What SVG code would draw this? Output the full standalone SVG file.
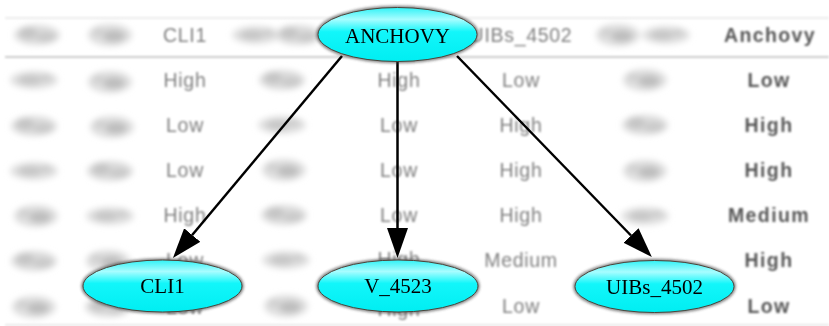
<svg xmlns="http://www.w3.org/2000/svg" xmlns:xlink="http://www.w3.org/1999/xlink" width="829" height="326" viewBox="0 0 829 326">
  <style>
    .cell { font-family: "Liberation Sans", Arial, sans-serif; font-size: 19.5px; fill: #808080; text-anchor: middle; letter-spacing: 0.7px; }
    .cell.key { font-weight: bold; fill: #575757; font-size: 19.5px; letter-spacing: 1.4px; }
    .rule { stroke: #cccccc; stroke-width: 2; }
    .node-body { fill: url(#cyanFill); stroke: #4d4238; stroke-width: 1; }
    .node-halo { fill: none; stroke: #3a3a3a; stroke-width: 3; opacity: 0.75; }
    .node-label { font-family: "Liberation Serif", "Times New Roman", serif; font-size: 21px; fill: #000; text-anchor: middle; }
    .edge { fill: none; stroke: #000; stroke-width: 2.5; }
  </style>
  <defs>
    <filter id="softText" x="-10%" y="-30%" width="120%" height="160%">
      <feGaussianBlur stdDeviation="0.9"/>
    </filter>
    <filter id="smudge" x="-20%" y="-20%" width="140%" height="140%">
      <feGaussianBlur stdDeviation="3.4"/>
    </filter>
    <filter id="softLine" x="-5%" y="-200%" width="110%" height="500%">
      <feGaussianBlur stdDeviation="0.8"/>
    </filter>
    <filter id="halo" x="-20%" y="-40%" width="140%" height="180%">
      <feGaussianBlur stdDeviation="1.6"/>
    </filter>
    <linearGradient id="cyanFill" x1="0" y1="0" x2="0" y2="1">
      <stop offset="0" stop-color="#30f2f6"/>
      <stop offset="0.22" stop-color="#a8fdff"/>
      <stop offset="0.45" stop-color="#12f6fa"/>
      <stop offset="1" stop-color="#00eef2"/>
    </linearGradient>
    <marker id="arrow" viewBox="0 0 30 21" refX="0" refY="10.5" markerWidth="30" markerHeight="21" markerUnits="userSpaceOnUse" orient="auto">
      <path d="M0,0 L30,10.5 L0,21 z" fill="#000"/>
    </marker>
    <!-- smudged cell marks, three shapes -->
    <g id="blob">
      <ellipse cx="0" cy="0" rx="23" ry="10" fill="#dcdcdc"/>
      <ellipse cx="-9" cy="-2" rx="9" ry="6" fill="#c4c4c4"/>
      <ellipse cx="9" cy="2" rx="10" ry="5" fill="#c9c9c9"/>
    </g>
    <g id="blob2">
      <ellipse cx="0" cy="0" rx="22" ry="11" fill="#dedede"/>
      <ellipse cx="4" cy="1" rx="11" ry="6" fill="#bdbdbd"/>
      <ellipse cx="-12" cy="-3" rx="6" ry="4" fill="#cfcfcf"/>
    </g>
    <g id="blob3">
      <ellipse cx="0" cy="0" rx="24" ry="9" fill="#e0e0e0"/>
      <ellipse cx="-4" cy="0" rx="12" ry="5" fill="#c6c6c6"/>
      <ellipse cx="12" cy="-2" rx="6" ry="4" fill="#cdcdcd"/>
    </g>
  </defs>

  <rect width="829" height="326" fill="#fff"/>

  <!-- table background -->
  <g id="table">
    <g filter="url(#softLine)">
      <line x1="5" y1="18" x2="829" y2="18" stroke="#e6e6e6" stroke-width="1.5"/>
      <line class="rule" x1="5" y1="57" x2="829" y2="57"/>
      <line x1="5" y1="325" x2="829" y2="325" stroke="#e0e0e0" stroke-width="1.5"/>
    </g>
    <g filter="url(#smudge)">
      <!-- header row -->
      <use xlink:href="#blob" x="37" y="35"/>
      <use xlink:href="#blob2" x="110" y="35"/>
      <use xlink:href="#blob3" x="256" y="35"/>
      <use xlink:href="#blob" x="298" y="35"/>
      <use xlink:href="#blob2" x="618" y="35"/>
      <use xlink:href="#blob3" x="666" y="35"/>
      <!-- body rows -->
      <use xlink:href="#blob3" x="34" y="80"/>
      <use xlink:href="#blob2" x="110" y="82"/>
      <use xlink:href="#blob" x="282" y="80"/>
      <use xlink:href="#blob2" x="645" y="80"/>
      <use xlink:href="#blob" x="34" y="126"/>
      <use xlink:href="#blob2" x="112" y="127"/>
      <use xlink:href="#blob3" x="282" y="125"/>
      <use xlink:href="#blob" x="645" y="125"/>
      <use xlink:href="#blob3" x="34" y="171"/>
      <use xlink:href="#blob" x="110" y="171"/>
      <use xlink:href="#blob2" x="284" y="170"/>
      <use xlink:href="#blob2" x="645" y="171"/>
      <use xlink:href="#blob2" x="36" y="216"/>
      <use xlink:href="#blob3" x="110" y="216"/>
      <use xlink:href="#blob" x="284" y="215"/>
      <use xlink:href="#blob3" x="645" y="216"/>
      <use xlink:href="#blob" x="34" y="261"/>
      <use xlink:href="#blob2" x="108" y="261"/>
      <use xlink:href="#blob3" x="286" y="260"/>
      <use xlink:href="#blob2" x="34" y="307"/>
      <use xlink:href="#blob" x="108" y="307"/>
      <use xlink:href="#blob2" x="286" y="306"/>
    </g>
    <g filter="url(#softText)">
      <text class="cell" x="185" y="42">CLI1</text>
      <text class="cell" x="185" y="87">High</text>
      <text class="cell" x="185" y="132">Low</text>
      <text class="cell" x="185" y="177">Low</text>
      <text class="cell" x="185" y="222">High</text>
      <text class="cell" x="185" y="267">Low</text>
      <text class="cell" x="185" y="314">Low</text>

      <text class="cell" x="399" y="87">High</text>
      <text class="cell" x="399" y="132">Low</text>
      <text class="cell" x="399" y="177">Low</text>
      <text class="cell" x="399" y="222">Low</text>
      <text class="cell" x="399" y="266">High</text>
      <text class="cell" x="399" y="316">High</text>

      <text class="cell" x="521" y="42">UIBs_4502</text>
      <text class="cell" x="521" y="87">Low</text>
      <text class="cell" x="521" y="132">High</text>
      <text class="cell" x="521" y="177">High</text>
      <text class="cell" x="521" y="222">High</text>
      <text class="cell" x="521" y="267">Medium</text>
      <text class="cell" x="521" y="313">Low</text>

      <text class="cell key" x="770" y="42">Anchovy</text>
      <text class="cell key" x="769" y="87">Low</text>
      <text class="cell key" x="769" y="132">High</text>
      <text class="cell key" x="769" y="177">High</text>
      <text class="cell key" x="769" y="222">Medium</text>
      <text class="cell key" x="769" y="267">High</text>
      <text class="cell key" x="769" y="313">Low</text>
    </g>
  </g>

  <!-- connectors -->
  <g id="edges">
    <path class="edge" d="M342,56 L192.2,235" marker-end="url(#arrow)"/>
    <path class="edge" d="M397.5,61 L397.5,228" marker-end="url(#arrow)"/>
    <path class="edge" d="M457,56 L631,235.5" marker-end="url(#arrow)"/>
  </g>

  <!-- nodes -->
  <g id="node-anchovy">
    <ellipse class="node-halo" cx="397.5" cy="34.5" rx="79.5" ry="27" filter="url(#halo)"/>
    <ellipse class="node-body" cx="397.5" cy="34.5" rx="79.5" ry="27"/>
    <text class="node-label" x="397.5" y="43">ANCHOVY</text>
  </g>
  <g id="node-cli1">
    <ellipse class="node-halo" cx="162.5" cy="286" rx="79.5" ry="26" filter="url(#halo)"/>
    <ellipse class="node-body" cx="162.5" cy="286" rx="79.5" ry="26"/>
    <text class="node-label" x="162.5" y="293">CLI1</text>
  </g>
  <g id="node-v4523">
    <ellipse class="node-halo" cx="398" cy="286" rx="80" ry="26" filter="url(#halo)"/>
    <ellipse class="node-body" cx="398" cy="286" rx="80" ry="26"/>
    <text class="node-label" x="398" y="292.5">V_4523</text>
  </g>
  <g id="node-uibs4502">
    <ellipse class="node-halo" cx="654.5" cy="286.5" rx="79.5" ry="26" filter="url(#halo)"/>
    <ellipse class="node-body" cx="654.5" cy="286.5" rx="79.5" ry="26"/>
    <text class="node-label" x="654.5" y="294">UIBs_4502</text>
  </g>
</svg>
